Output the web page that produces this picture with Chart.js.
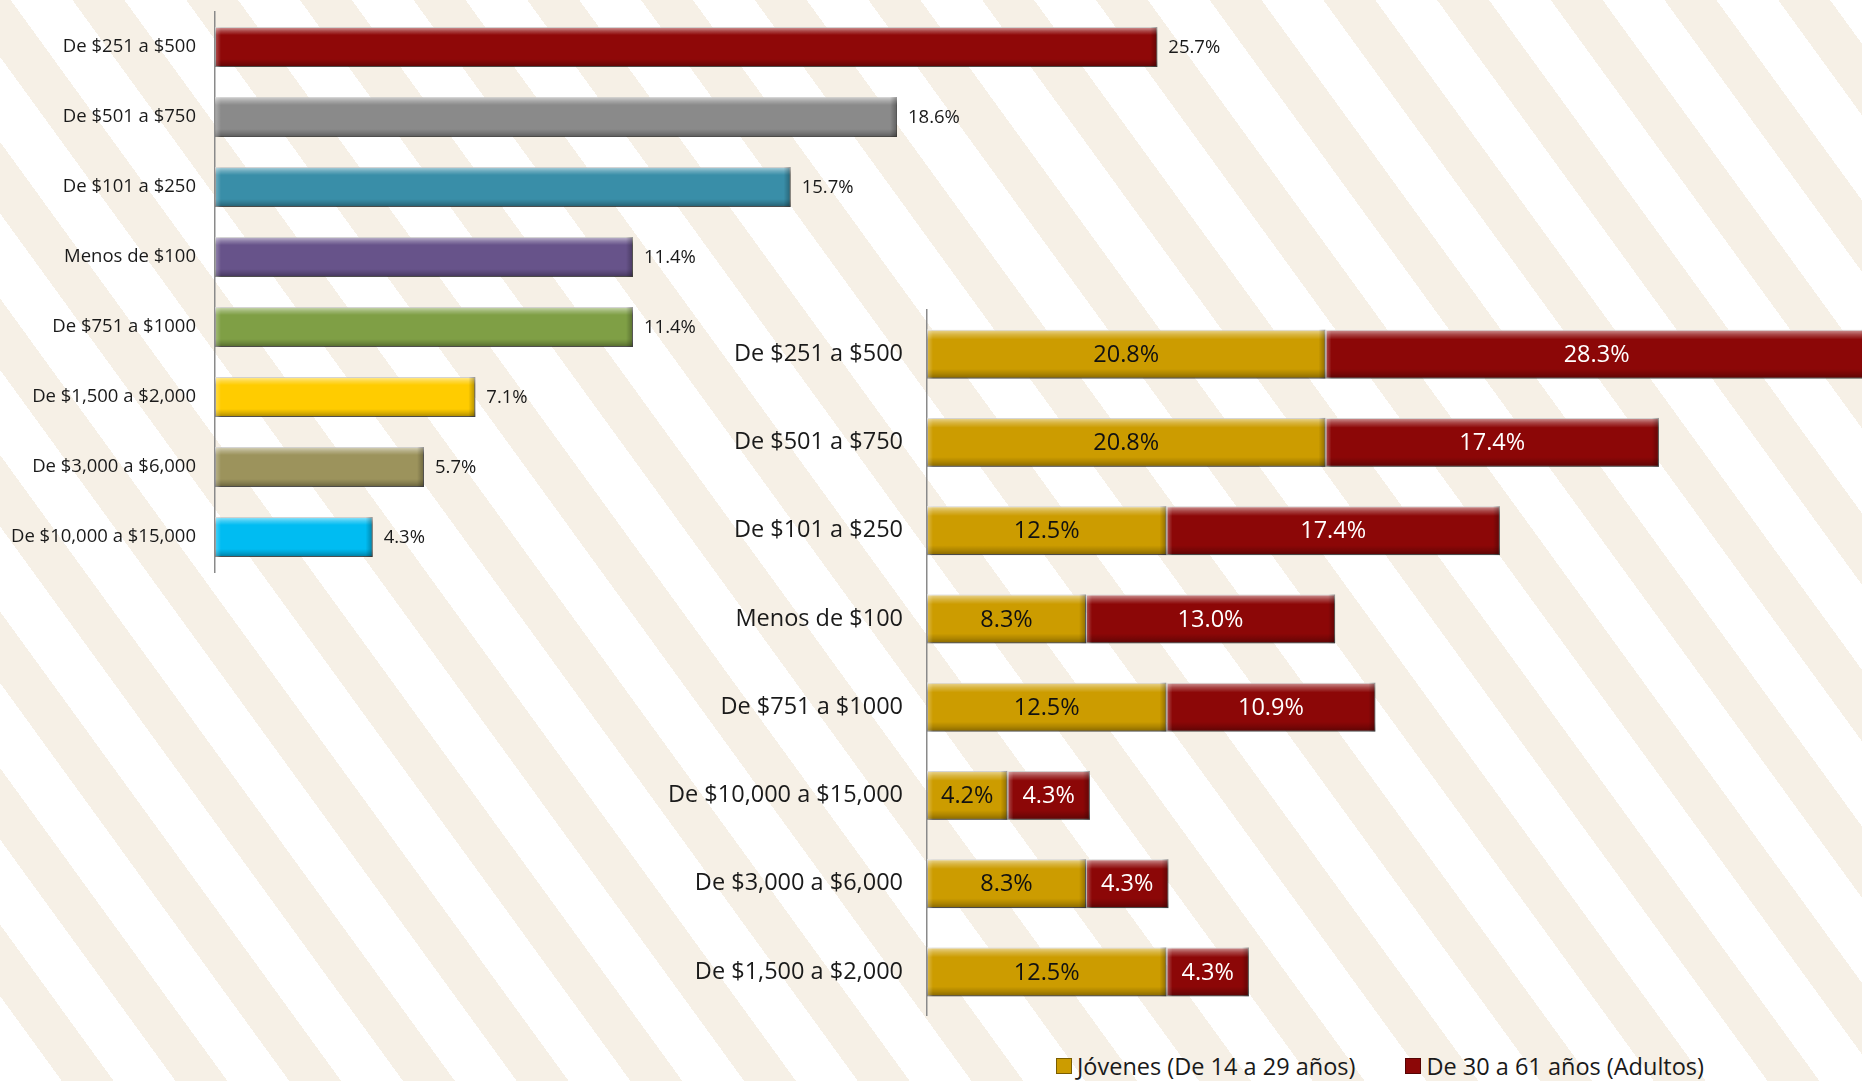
<!DOCTYPE html>
<html>
<head>
<meta charset="utf-8">
<script src="https://cdn.jsdelivr.net/npm/chart.js@4.4.1/dist/chart.umd.min.js"></script>
<style>
    body {
        margin: 0;
        width: 1862px;
        height: 1081px;
        overflow: hidden;
        position: relative;
        background: repeating-linear-gradient(54deg, #ffffff 0 50px, #f6f0e6 50px 92px);
        font-family: "Open Sans", sans-serif;
    }
    canvas { position: absolute; }
    #left { left: 0; top: 1px; }
    #right { left: 560px; top: 301px; }
    #legend {
        position: absolute;
        left: 1056px;
        top: 1050px;
        font-size: 23.5px;
        color: #1a1a1a;
        white-space: nowrap;
    }
    #legend span.item { margin-right: 50px; }
    #legend i {
        display: inline-block;
        width: 14px;
        height: 14px;
        margin-right: 5px;
        border: 1px solid rgba(0,0,0,0.4);
        vertical-align: 1px;
    }
</style>
</head>
<body>
<canvas id="left" width="1315" height="590"></canvas>
<canvas id="right" width="1302" height="715"></canvas>
<div id="legend"></div>
<script>
// total sample
const leftCats = ['De $251 a $500', 'De $501 a $750', 'De $101 a $250', 'Menos de $100',
    'De $751 a $1000', 'De $1,500 a $2,000', 'De $3,000 a $6,000', 'De $10,000 a $15,000'];
const leftVals = [25.7, 18.6, 15.7, 11.4, 11.4, 7.1, 5.7, 4.3];
const leftColors = ['#8f0808', '#8a8a8a', '#398ea8', '#67538a', '#7f9f45', '#ffcc00', '#9c935c', '#00bcf2'];

// by age group
const rightCats = ['De $251 a $500', 'De $501 a $750', 'De $101 a $250', 'Menos de $100',
    'De $751 a $1000', 'De $10,000 a $15,000', 'De $3,000 a $6,000', 'De $1,500 a $2,000'];
const jovenes = [20.8, 20.8, 12.5, 8.3, 12.5, 4.2, 8.3, 12.5];
const adultos = [28.3, 17.4, 17.4, 13.0, 10.9, 4.3, 4.3, 4.3];
const seriesNames = ['Jóvenes (De 14 a 29 años)', 'De 30 a 61 años (Adultos)'];
const seriesColors = ['#cc9c00', '#8c0707'];

const fontFamily = '"Open Sans", sans-serif';

// 3d-ish bar look: shadow under the bars, light top edge, dark bottom edge
const bevel = {
    id: 'bevel',
    beforeDatasetsDraw(chart) {
        const ctx = chart.ctx;
        ctx.save();
        ctx.shadowColor = 'rgba(0,0,0,0.35)';
        ctx.shadowOffsetX = 2;
        ctx.shadowOffsetY = 3;
        ctx.shadowBlur = 4;
    },
    afterDatasetsDraw(chart) {
        const ctx = chart.ctx;
        ctx.restore();
        chart.data.datasets.forEach((ds, i) => {
            chart.getDatasetMeta(i).data.forEach(bar => {
                const p = bar.getProps(['x', 'y', 'base', 'height'], true);
                const l = Math.min(p.x, p.base), r = Math.max(p.x, p.base);
                const t = p.y - p.height / 2, b = p.y + p.height / 2, h = b - t;
                ctx.save();
                let g = ctx.createLinearGradient(0, t, 0, b);
                g.addColorStop(0, 'rgba(255,255,255,0.6)');
                g.addColorStop(0.1, 'rgba(255,255,255,0.25)');
                g.addColorStop(0.2, 'rgba(255,255,255,0)');
                g.addColorStop(0.8, 'rgba(0,0,0,0)');
                g.addColorStop(0.9, 'rgba(0,0,0,0.15)');
                g.addColorStop(1, 'rgba(0,0,0,0.35)');
                ctx.fillStyle = g;
                ctx.fillRect(l, t, r - l, h);
                let g2 = ctx.createLinearGradient(r - 7, 0, r, 0);
                g2.addColorStop(0, 'rgba(0,0,0,0)');
                g2.addColorStop(1, 'rgba(0,0,0,0.3)');
                ctx.fillStyle = g2;
                ctx.fillRect(r - 7, t, 7, h);
                let g3 = ctx.createLinearGradient(l, 0, l + 6, 0);
                g3.addColorStop(0, 'rgba(255,255,255,0.3)');
                g3.addColorStop(1, 'rgba(255,255,255,0)');
                ctx.fillStyle = g3;
                ctx.fillRect(l, t, 6, h);
                ctx.restore();
            });
        });
    }
};

const valueLabels = {
    id: 'valueLabels',
    afterDatasetsDraw(chart, args, opts) {
        const ctx = chart.ctx;
        chart.data.datasets.forEach((ds, i) => {
            chart.getDatasetMeta(i).data.forEach((bar, j) => {
                const txt = ds.data[j].toFixed(1) + '%';
                ctx.save();
                ctx.font = opts.size + 'px ' + fontFamily;
                ctx.fillStyle = opts.colors[i];
                ctx.textBaseline = 'middle';
                if (opts.inside) {
                    ctx.textAlign = 'center';
                    ctx.fillText(txt, (bar.x + bar.base) / 2, bar.y + 1);
                } else {
                    ctx.textAlign = 'left';
                    ctx.fillText(txt, bar.x + 11, bar.y + 1);
                }
                ctx.restore();
            });
        });
    }
};

new Chart(document.getElementById('left'), {
    type: 'bar',
    data: {
        labels: leftCats,
        datasets: [{
            data: leftVals,
            backgroundColor: leftColors,
            borderColor: 'rgba(0,0,0,0.35)',
            borderWidth: 1,
            borderSkipped: false,
            categoryPercentage: 1,
            barPercentage: 0.57
        }]
    },
    options: {
        indexAxis: 'y',
        responsive: false,
        animation: false,
        layout: { padding: { top: 11, bottom: 19, left: 0, right: 0 } },
        plugins: {
            legend: { display: false },
            tooltip: { enabled: false },
            valueLabels: { size: 18.5, colors: ['#1a1a1a'], inside: false }
        },
        scales: {
            x: { display: false, min: 0, max: 30 },
            y: {
                grid: { display: false, drawTicks: false },
                border: { display: true, color: '#8a8a8a', width: 1.5 },
                ticks: { font: { size: 18.5, family: fontFamily }, color: '#1a1a1a', padding: 19 },
                afterFit(scale) {
                    scale.width = 215;
                    scale.paddingTop = 0;
                    scale.paddingBottom = 0;
                }
            }
        }
    },
    plugins: [bevel, valueLabels]
});

new Chart(document.getElementById('right'), {
    type: 'bar',
    data: {
        labels: rightCats,
        datasets: [
            { label: seriesNames[0], data: jovenes, backgroundColor: seriesColors[0] },
            { label: seriesNames[1], data: adultos, backgroundColor: seriesColors[1] }
        ].map(ds => Object.assign(ds, {
            borderColor: 'rgba(0,0,0,0.35)',
            borderWidth: 1,
            borderSkipped: false,
            categoryPercentage: 1,
            barPercentage: 0.555
        }))
    },
    options: {
        indexAxis: 'y',
        responsive: false,
        animation: false,
        layout: { padding: { top: 9, bottom: 0, left: 0, right: 0 } },
        plugins: {
            legend: { display: false },
            tooltip: { enabled: false },
            valueLabels: { size: 23.5, colors: ['#111111', '#ffffff'], inside: true }
        },
        scales: {
            x: { display: false, stacked: true, min: 0, max: 48.8 },
            y: {
                stacked: true,
                grid: { display: false, drawTicks: false },
                border: { display: true, color: '#8a8a8a', width: 1.5 },
                ticks: { font: { size: 23.5, family: fontFamily }, color: '#1a1a1a', padding: 24 },
                afterFit(scale) {
                    scale.width = 367;
                    scale.paddingTop = 0;
                    scale.paddingBottom = 0;
                }
            }
        }
    },
    plugins: [bevel, valueLabels]
});

// legend as real text
const legend = document.getElementById('legend');
seriesNames.forEach((name, i) => {
    const item = document.createElement('span');
    item.className = 'item';
    item.innerHTML = '<i style="background:' + seriesColors[i] + '"></i>' + name;
    legend.appendChild(item);
});
</script>
</body>
</html>
